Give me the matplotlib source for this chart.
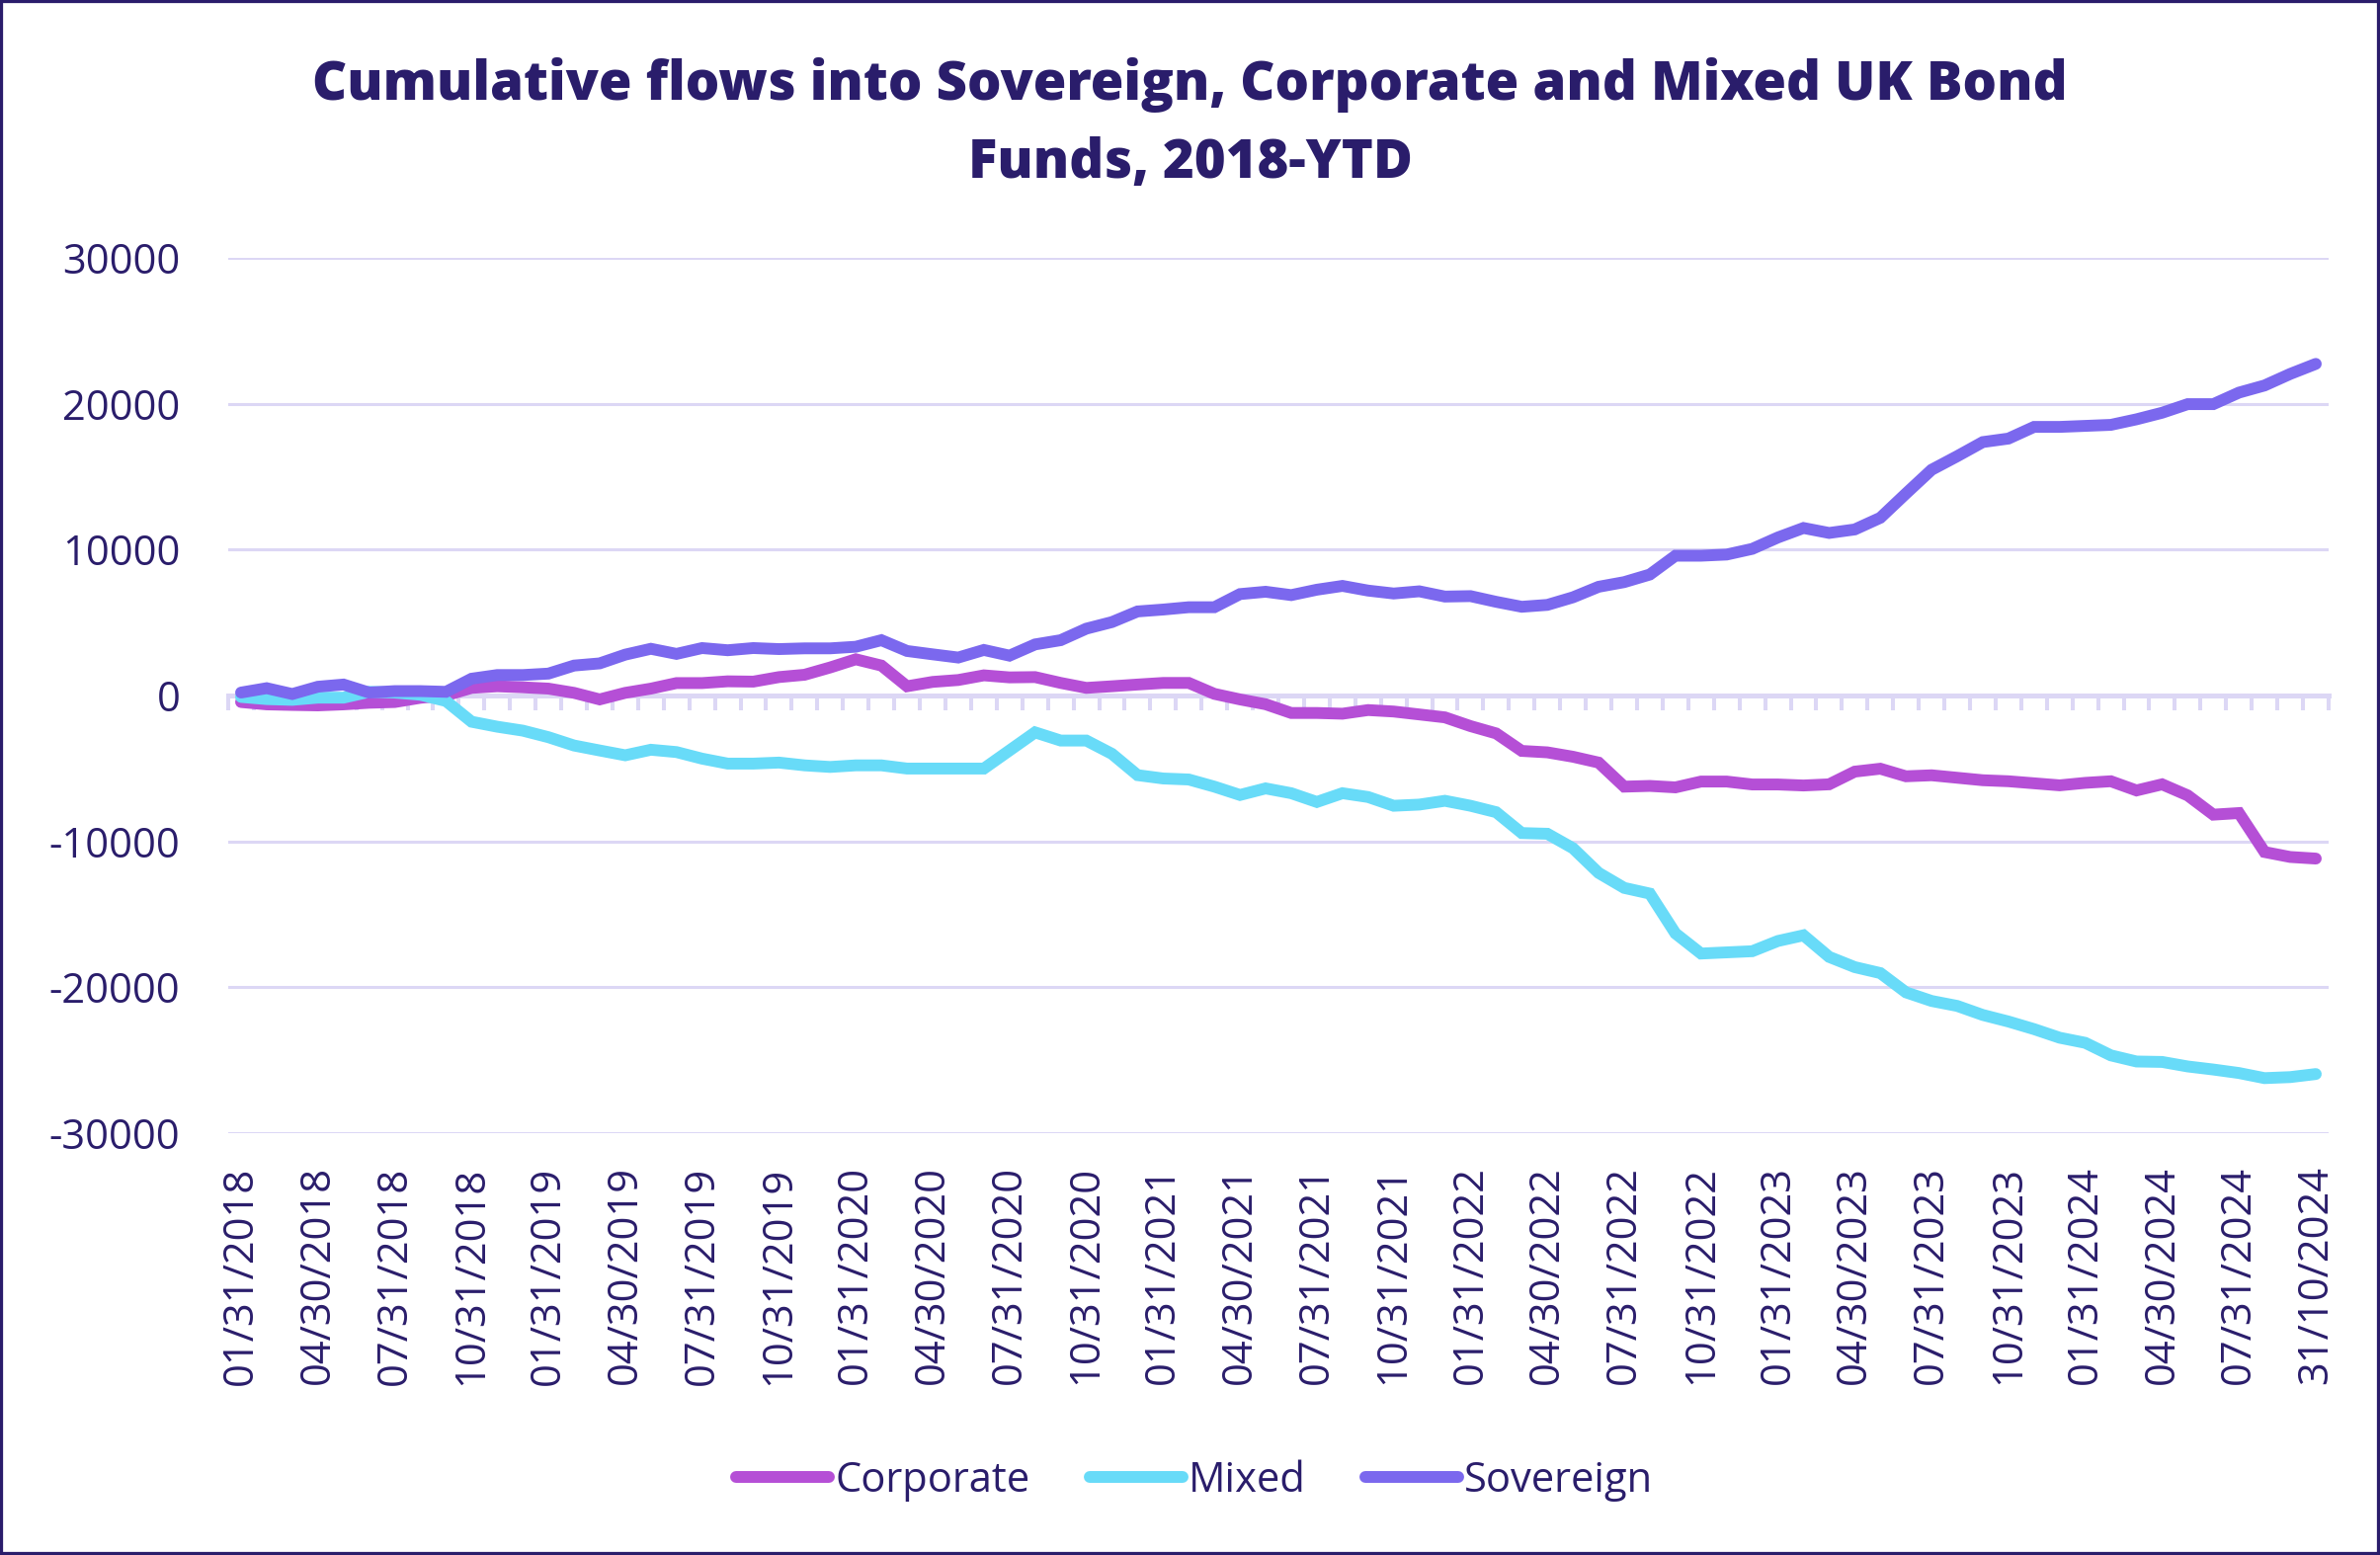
import numpy as np
import matplotlib
matplotlib.use("Agg")
import matplotlib.pyplot as plt
from matplotlib.patches import Rectangle
from matplotlib.ticker import FuncFormatter

NAVY = "#2A1D6B"
GRID = "#DCD7F5"

# cumulative flows, monthly, 01/2018 -> 10/2024
corporate = [
    -450, -610, -650, -680, -610, -500, -450, -160, 0, 520,
    630, 560, 470, 180, -270, 180, 470, 850, 850, 970,
    950, 1260, 1420, 1920, 2480, 2050, 630, 930, 1060, 1380,
    1240, 1260, 860, 520, 630, 750, 860, 860, 110, -270,
    -600, -1200, -1200, -1250, -1000, -1100, -1300, -1500, -2100, -2600,
    -3800, -3900, -4200, -4600, -6250, -6200, -6300, -5900, -5900, -6100,
    -6100, -6170, -6090, -5220, -5020, -5540, -5470, -5640, -5810, -5880,
    -6020, -6160, -5990, -5880, -6510, -6090, -6850, -8170, -8060, -10730,
    -11070, -11180,
]
mixed = [
    -100, -250, -300, -150, -150, 250, 200, 50, -380, -1800,
    -2140, -2410, -2860, -3430, -3770, -4100, -3720, -3880, -4330, -4670,
    -4670, -4600, -4790, -4900, -4790, -4790, -5010, -5010, -5010, -5010,
    -3770, -2530, -3090, -3090, -4000, -5460, -5690, -5760, -6250, -6820,
    -6370, -6700, -7300, -6700, -6960, -7560, -7480, -7220, -7560, -8000,
    -9430, -9480, -10470, -12160, -13190, -13580, -16310, -17690, -17610, -17530,
    -16830, -16440, -17920, -18620, -19030, -20350, -20940, -21280, -21900, -22350,
    -22870, -23460, -23810, -24670, -25090, -25120, -25430, -25640, -25880, -26230,
    -26160, -25950,
]
sovereign = [
    200, 500, 100, 600, 750, 200, 300, 300, 250, 1150,
    1400, 1400, 1500, 2050, 2200, 2800, 3200, 2850, 3250, 3100,
    3250, 3180, 3230, 3230, 3340, 3790, 3050, 2820, 2600, 3120,
    2730, 3500, 3790, 4580, 5030, 5760, 5890, 6050, 6050, 6950,
    7110, 6880, 7250, 7510, 7190, 6990, 7140, 6780, 6810, 6420,
    6080, 6210, 6730, 7450, 7770, 8290, 9580, 9580, 9660, 10050,
    10830, 11480, 11140, 11380, 12180, 13840, 15470, 16400, 17370, 17610,
    18410, 18410, 18480, 18550, 18930, 19380, 19970, 19970, 20760, 21250,
    22040, 22730,
]

# one label every 3 months
tick_labels = [
    "01/31/2018", "04/30/2018", "07/31/2018", "10/31/2018",
    "01/31/2019", "04/30/2019", "07/31/2019", "10/31/2019",
    "01/31/2020", "04/30/2020", "07/31/2020", "10/31/2020",
    "01/31/2021", "04/30/2021", "07/31/2021", "10/31/2021",
    "01/31/2022", "04/30/2022", "07/31/2022", "10/31/2022",
    "01/31/2023", "04/30/2023", "07/31/2023", "10/31/2023",
    "01/31/2024", "04/30/2024", "07/31/2024", "31/10/2024",
]

series = [
    ("Corporate", corporate, "#B54FD6"),
    ("Mixed", mixed, "#68DBF8"),
    ("Sovereign", sovereign, "#7B68EE"),
]

plt.rcParams["font.family"] = ["Open Sans", "DejaVu Sans"]

fig = plt.figure(figsize=(24.09, 15.74), dpi=100)
ax = fig.add_axes([0.0959, 0.2713, 0.8825, 0.5629])

n = len(sovereign)
x = np.arange(n)
for name, vals, col in series:
    ax.plot(x, vals, color=col, lw=8.6, label=name, zorder=3,
            solid_capstyle="round", solid_joinstyle="miter")

ax.set_xlim(-0.5, n - 0.5)
ax.set_ylim(-30000, 30000)
ax.set_yticks(np.arange(-30000, 30001, 10000))
ax.yaxis.set_major_formatter(FuncFormatter(lambda v, p: f"{v:.0f}"))
ax.yaxis.grid(True, color=GRID, lw=2.2)
ax.set_axisbelow(True)
ax.tick_params(axis="y", length=0, pad=35, labelsize=30, labelcolor=NAVY)

for s in ("left", "right", "top"):
    ax.spines[s].set_visible(False)
ax.spines["bottom"].set_position(("data", 0))
ax.spines["bottom"].set_color(GRID)
ax.spines["bottom"].set_linewidth(3.6)

# small ticks between categories, hanging under the zero line
ax.set_xticks([])
ax.set_xticks(np.arange(-0.5, n), minor=True)
ax.tick_params(axis="x", which="minor", direction="out", length=11, width=2.9,
               color=GRID, labelbottom=False)

sec = ax.secondary_xaxis(0)
sec.set_xticks(x[::3], tick_labels, rotation=90)
sec.tick_params(length=0, pad=24, labelsize=30, labelcolor=NAVY)
sec.spines["bottom"].set_visible(False)

fig.text(0.5, 0.9204,
         "Cumulative flows into Sovereign, Corporate and Mixed UK Bond\nFunds, 2018-YTD",
         ha="center", va="center", fontsize=39.2, fontweight=800, color=NAVY,
         linespacing=1.58)

fig.legend(loc="center", bbox_to_anchor=(0.502, 0.0476), ncol=3, frameon=False,
           fontsize=30, handlelength=2.25, handletextpad=0.15, columnspacing=1.45,
           labelcolor=NAVY)

fig.patches.append(Rectangle((0, 0), 1, 1, transform=fig.transFigure, fill=False,
                             edgecolor=NAVY, lw=4.5))

fig.savefig("out.png", dpi=100)
